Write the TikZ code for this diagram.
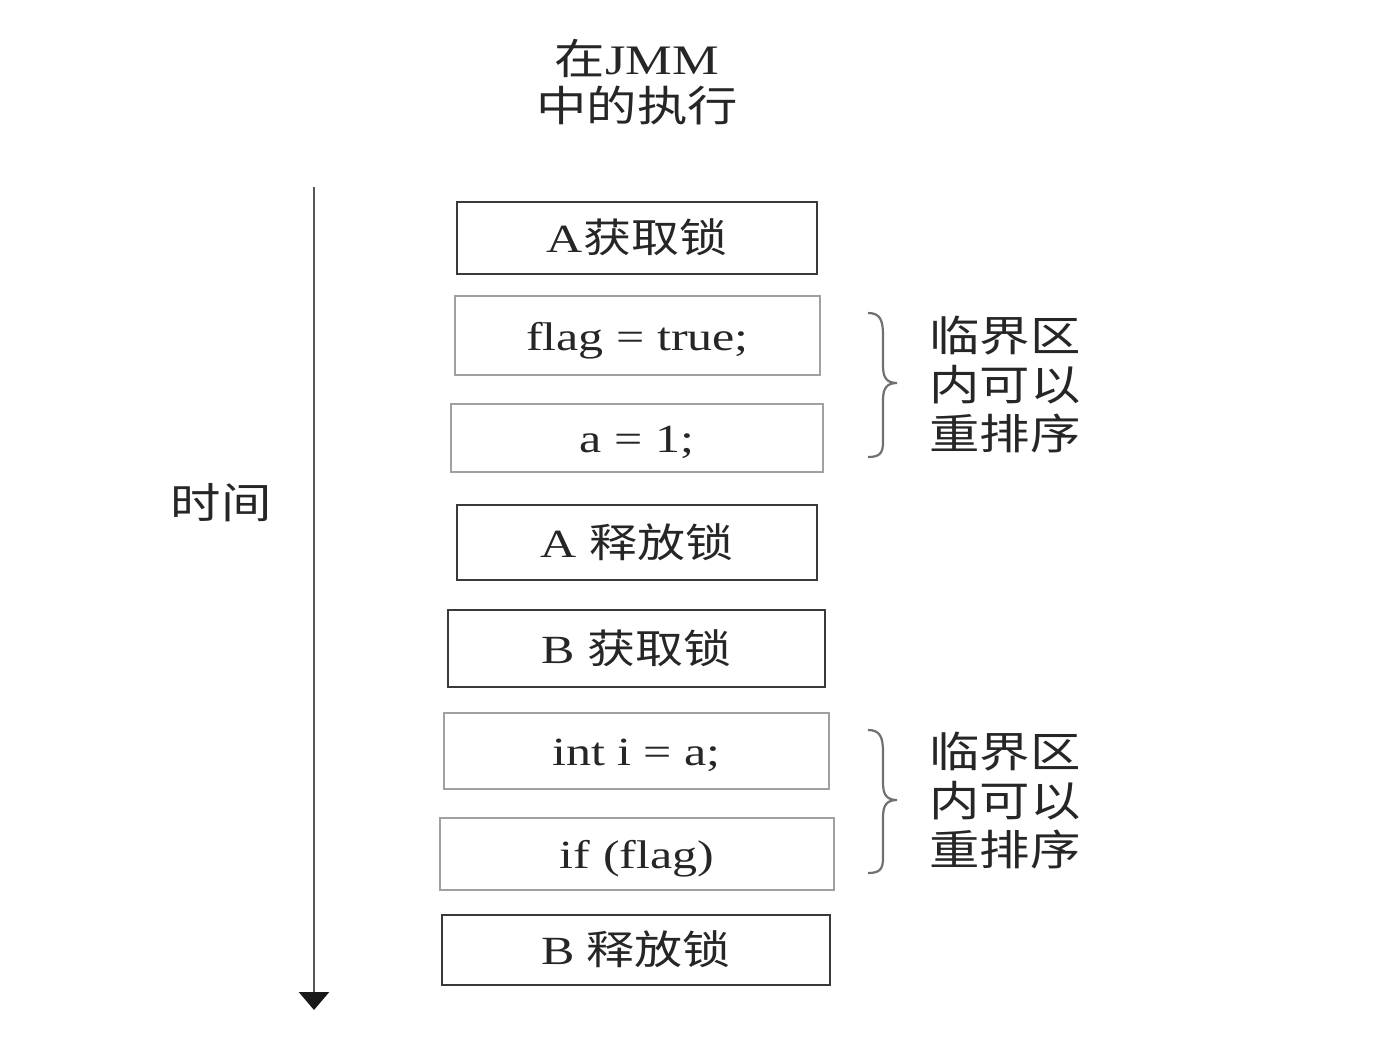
\documentclass[tikz,border=0pt]{standalone}
\usepackage{fontspec}
\setmainfont[FakeStretch=1.25]{Liberation Serif}
\newfontfamily\cjkfont[FakeStretch=1.2]{Noto Sans CJK SC}
\newcommand\zh[1]{{\cjkfont #1}}
\usetikzlibrary{arrows.meta}
\definecolor{txt}{HTML}{262626}
\definecolor{darkedge}{HTML}{3A3A3A}
\definecolor{lightedge}{HTML}{A0A0A0}
\definecolor{bracecol}{HTML}{707070}
\tikzset{
  boxbase/.style={inner sep=0pt, text=txt, text height=19pt, text depth=4.5pt,
    font=\fontsize{20}{24}\selectfont},
  lockbox/.style={boxbase, draw=darkedge, line width=1.2pt},
  codebox/.style={boxbase, draw=lightedge, line width=1.1pt},
  lbl/.style={text=txt, align=center, inner sep=0pt},
  bracestyle/.style={draw=bracecol, line width=1.1pt},
  timeline/.style={draw=darkedge!85, line width=1.4pt,
    -{Triangle[width=15pt,length=9pt,color=black!90]}}
}
\begin{document}
\begin{tikzpicture}[x=0.5pt,y=-0.5pt]
\useasboundingbox (0,0) rectangle (1380,1054);

% title
\node[lbl, font=\fontsize{21}{23.5}\selectfont] (title) at (637,82) {\zh{在}JMM\\\zh{中的执行}};

% time axis
\coordinate (ttop) at (314,187);
\coordinate (tbot) at (314,1010);
\draw[timeline] (ttop) -- (tbot);
\node[lbl, font=\fontsize{21}{24}\selectfont] (time) at (221,503) {\zh{时间}};

% boxes
\node[lockbox, minimum width=180pt, minimum height=36pt] (b1) at (637,238) {A\zh{获取锁}};
\node[codebox, minimum width=182.5pt, minimum height=39.5pt] (b2) at (637.5,335.5) {flag = true;};
\node[codebox, minimum width=186pt, minimum height=34pt] (b3) at (637,438) {a = 1;};
\node[lockbox, minimum width=180pt, minimum height=37.5pt] (b4) at (637,542.5) {A \zh{释放锁}};
\node[lockbox, minimum width=188.5pt, minimum height=38.5pt] (b5) at (636.5,648.5) {B \zh{获取锁}};
\node[codebox, minimum width=192.5pt, minimum height=38pt] (b6) at (636.5,751) {int i = a;};
\node[codebox, minimum width=197pt, minimum height=36pt] (b7) at (637,854) {if (flag)};
\node[lockbox, minimum width=194pt, minimum height=35pt] (b8) at (636,950) {B \zh{释放锁}};

% braces
\draw[bracestyle] (868,313) .. controls (880,313) and (883,320) .. (883,335)
  -- (883,366) .. controls (883,378) and (887,383) .. (897,383)
  .. controls (887,383) and (883,388) .. (883,400)
  -- (883,442) .. controls (883,453) and (880,457) .. (868,457);
\draw[bracestyle] (868,730) .. controls (880,730) and (883,737) .. (883,752)
  -- (883,783) .. controls (883,795) and (887,800) .. (897,800)
  .. controls (887,800) and (883,805) .. (883,817)
  -- (883,858) .. controls (883,869) and (880,873) .. (868,873);

\node[lbl, font=\fontsize{21}{24.5}\selectfont] (r1) at (1005,384) {\zh{临界区}\\\zh{内可以}\\\zh{重排序}};
\node[lbl, font=\fontsize{21}{24.5}\selectfont] (r2) at (1005,800) {\zh{临界区}\\\zh{内可以}\\\zh{重排序}};
\end{tikzpicture}
\end{document}
